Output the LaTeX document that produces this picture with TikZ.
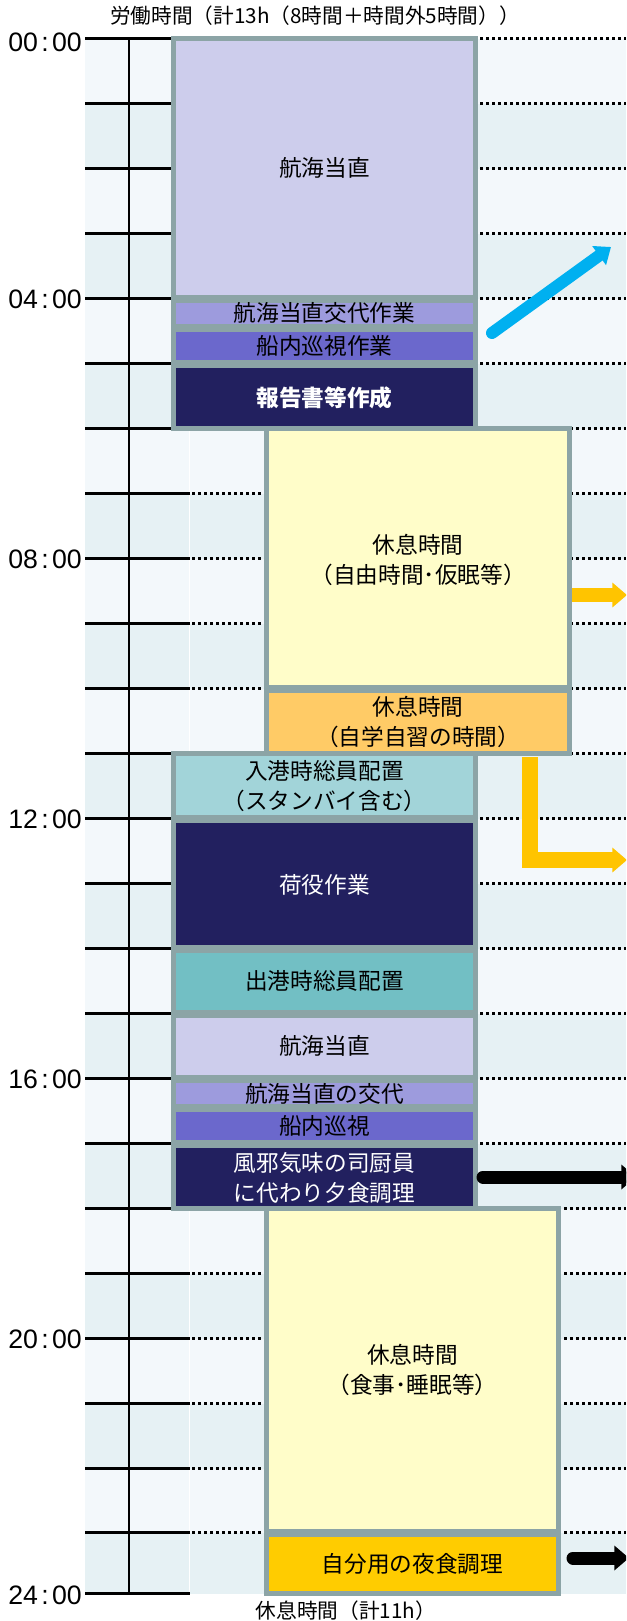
\documentclass[tikz,border=0pt]{standalone}
\usepackage{fontspec}
\setmainfont{Noto Sans CJK JP}
\newfontfamily\numfont{Liberation Sans}
\usetikzlibrary{arrows.meta}
\definecolor{bgA}{HTML}{F3F8FB}
\definecolor{bgB}{HTML}{E6F1F4}
\definecolor{bord}{HTML}{8CA4A6}
\definecolor{watch}{HTML}{CDCDEC}
\definecolor{handover}{HTML}{9D9BDD}
\definecolor{patrol}{HTML}{6B68CC}
\definecolor{navy}{HTML}{22205F}
\definecolor{restY}{HTML}{FFFDC9}
\definecolor{study}{HTML}{FFCB66}
\definecolor{portin}{HTML}{A2D4D9}
\definecolor{portout}{HTML}{72BFC4}
\definecolor{snack}{HTML}{FFCC00}
\definecolor{arrB}{HTML}{00B0F0}
\definecolor{arrY}{HTML}{FFC400}
\begin{document}
\begin{tikzpicture}[x=0.75pt,y=-0.75pt,
  boxst/.style={draw=bord,line width=3.75pt},
  lbl/.style={font=\fontsize{17}{22.5}\selectfont,align=center,inner sep=0pt},
  wlbl/.style={lbl,text=white},
  tlbl/.style={font=\numfont\fontsize{20}{20}\selectfont,anchor=east,inner sep=0pt},
  caption/.style={font=\fontsize{15.5}{18}\selectfont,inner sep=0pt},
  tickln/.style={line width=2pt,black},
  dotln/.style={line width=2pt,black,dash pattern=on 2pt off 2.5pt},
  yarr/.style={arrY,line width=10.5pt,-{Triangle[length=11pt,width=18pt]}},
  barr/.style={black,line width=9.75pt,line cap=round,-{Triangle[length=11pt,width=18pt]}},
]
\useasboundingbox (0,0) rectangle (626,1621);
\clip (0,0) rectangle (626,1621);
\fill[white] (0,0) rectangle (626,1621);
% background bands
\foreach \h in {0,2,...,22}{\fill[bgA] (85,{38.5+65*\h}) rectangle (626,{38.5+65*(\h+1)});}
\foreach \h in {1,3,...,21}{\fill[bgB] (85,{38.5+65*\h}) rectangle (626,{38.5+65*(\h+1)});}
\fill[bgB] (85,1532.5) rectangle (626,1593.5);
\draw[white,line width=1.2pt] (189.5,38.5) -- (189.5,1593.5);
% grid lines
\foreach \h in {0,...,22}{
  \draw[tickln] (85,{38.5+65*\h}) -- (190,{38.5+65*\h});
  \draw[dotln] (192,{38.5+65*\h}) -- (626,{38.5+65*\h});
}
\draw[tickln] (85,1532.5) -- (190,1532.5);
\draw[dotln] (192,1532.5) -- (626,1532.5);
\draw[tickln] (85,1593.5) -- (190,1593.5);
\draw[line width=2pt] (129,38.5) -- (129,1593.5);
% time labels
\node[tlbl] (t00) at (82,42) {00\hspace{2.5pt}:\hspace{2.5pt}00};
\node[tlbl] (t04) at (82,299.5) {04\hspace{2.5pt}:\hspace{2.5pt}00};
\node[tlbl] (t08) at (82,559.5) {08\hspace{2.5pt}:\hspace{2.5pt}00};
\node[tlbl] (t12) at (82,819.5) {12\hspace{2.5pt}:\hspace{2.5pt}00};
\node[tlbl] (t16) at (82,1079.5) {16\hspace{2.5pt}:\hspace{2.5pt}00};
\node[tlbl] (t20) at (82,1339.5) {20\hspace{2.5pt}:\hspace{2.5pt}00};
\node[tlbl] (t24) at (82,1595.5) {24\hspace{2.5pt}:\hspace{2.5pt}00};
% right column boxes
\draw[boxst,fill=restY] (266.5,428.5) rectangle (569.5,687);
\draw[boxst,fill=study] (266.5,690) rectangle (569.5,753.5);
\draw[boxst,fill=restY] (266.5,1208.5) rectangle (558.5,1531);
\draw[boxst,fill=snack] (266.5,1534) rectangle (558.5,1593.5);
% left column boxes
\draw[boxst,fill=watch] (173.5,38.5) rectangle (475.5,297.5);
\draw[boxst,fill=handover] (173.5,300) rectangle (475.5,326.5);
\draw[boxst,fill=patrol] (173.5,329.5) rectangle (475.5,362);
\draw[boxst,fill=navy] (173.5,365) rectangle (475.5,428.5);
\draw[boxst,fill=portin] (173.5,753.5) rectangle (475.5,817);
\draw[boxst,fill=navy] (173.5,820) rectangle (475.5,947);
\draw[boxst,fill=portout] (173.5,950) rectangle (475.5,1012);
\draw[boxst,fill=watch] (173.5,1015) rectangle (475.5,1077);
\draw[boxst,fill=handover] (173.5,1080) rectangle (475.5,1106.5);
\draw[boxst,fill=patrol] (173.5,1109.5) rectangle (475.5,1142);
\draw[boxst,fill=navy] (173.5,1145) rectangle (475.5,1208.5);
% box labels
\node[lbl] (a1) at (324.5,168) {航海当直};
\node[lbl] (a2) at (324.5,313) {航海当直交代作業};
\node[lbl] (a3) at (324.5,346) {船内巡視作業};
\node[wlbl,font=\fontsize{17}{22.5}\selectfont\bfseries] (a4) at (324.5,397.5) {報告書等作成};
\node[lbl] (r1) at (418,560) {休息時間\\（自由時間･仮眠等）};
\node[lbl] (r2) at (418,721.5) {休息時間\\（自学自習の時間）};
\node[lbl] (b1) at (324.5,786) {入港時総員配置\\（スタンバイ含む）};
\node[wlbl] (b2) at (324.5,885) {荷役作業};
\node[lbl] (b3) at (324.5,980.5) {出港時総員配置};
\node[lbl] (b4) at (324.5,1046) {航海当直};
\node[lbl] (b5) at (324.5,1094) {航海当直の交代};
\node[lbl] (b6) at (324.5,1126) {船内巡視};
\node[wlbl] (b7) at (324.5,1177.5) {風邪気味の司厨員\\に代わり夕食調理};
\node[lbl] (r3) at (412.5,1369.5) {休息時間\\（食事･睡眠等）};
\node[lbl] (r4) at (412.5,1564) {自分用の夜食調理};
% captions
\node[caption] (top) at (315,16) {労働時間（計13h（8時間＋時間外5時間））};
\node[caption] (bot) at (346,1611) {休息時間（計11h）};
% arrows
\coordinate (bs) at (492,333);
\coordinate (be) at (611,247);
\draw[arrB,line width=9pt,line cap=round,-{Triangle[length=11pt,width=17pt]}] (bs) -- (be);
\coordinate (y1s) at (572,595);
\coordinate (y1e) at (627,595);
\draw[yarr] (y1s) -- (y1e);
\coordinate (y2s) at (530,757);
\coordinate (y2e) at (627,860);
\draw[yarr,line width=12pt,line join=miter] (y2s) |- (y2e);
\coordinate (k1s) at (483,1177);
\coordinate (k1e) at (636,1177);
\draw[barr] (k1s) -- (k1e);
\coordinate (k2s) at (573,1558);
\coordinate (k2e) at (629,1558);
\draw[barr] (k2s) -- (k2e);
\end{tikzpicture}
\end{document}
